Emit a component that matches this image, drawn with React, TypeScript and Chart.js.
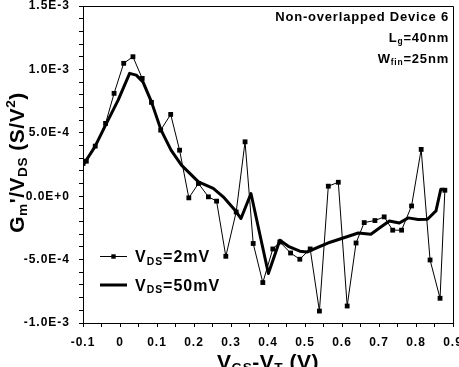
import React, { useEffect, useRef } from 'react';
import { Chart, registerables } from 'chart.js';

Chart.register(...registerables);

// Gate voltage overdrive (V) and normalised transconductance derivative (S/V^2)
const vds2X = [
  -0.1, -0.091, -0.067, -0.039, -0.016, 0.01, 0.035, 0.06, 0.085, 0.11, 0.137, 0.161,
  0.186, 0.212, 0.239, 0.261, 0.286, 0.314, 0.338, 0.36, 0.386, 0.413, 0.432, 0.461,
  0.486, 0.514, 0.539, 0.563, 0.59, 0.614, 0.638, 0.66, 0.689, 0.714, 0.737, 0.761,
  0.788, 0.814, 0.838, 0.865, 0.878,
];
const vds2Y = [
  2.58e-4, 2.76e-4, 3.95e-4, 5.74e-4, 8.11e-4, 1.048e-3, 1.1e-3, 9.29e-4, 7.4e-4, 5.21e-4,
  6.45e-4, 3.63e-4, -1.3e-5, 1.0e-4, -5e-6, -3.9e-5, -4.74e-4, -1.24e-4, 4.29e-4, -3.73e-4,
  -6.81e-4, -4.16e-4, -3.61e-4, -4.48e-4, -4.97e-4, -4.16e-4, -9.06e-4, 7.9e-5, 1.1e-4,
  -8.66e-4, -3.69e-4, -2.08e-4, -1.92e-4, -1.63e-4, -2.68e-4, -2.68e-4, -7.7e-5, 3.69e-4,
  -5.03e-4, -8.05e-4, 4.7e-5,
];

const vds50X = [
  -0.1, -0.068, -0.039, -0.005, 0.026, 0.044, 0.062, 0.085, 0.111, 0.138, 0.166, 0.212,
  0.252, 0.279, 0.311, 0.327, 0.354, 0.401, 0.432, 0.455, 0.486, 0.505, 0.568, 0.644,
  0.678, 0.703, 0.728, 0.755, 0.779, 0.806, 0.831, 0.854, 0.867, 0.877,
];
const vds50Y = [
  2.45e-4, 3.89e-4, 5.61e-4, 7.58e-4, 9.69e-4, 9.55e-4, 9.02e-4, 7.44e-4, 5.21e-4, 3.63e-4,
  2.45e-4, 1.13e-4, 6.1e-5, -5e-6, -1.1e-4, -1.76e-4, 2.1e-5, -6.1e-4, -3.47e-4, -3.95e-4,
  -4.34e-4, -4.4e-4, -3.63e-4, -2.9e-4, -3.0e-4, -2.47e-4, -1.95e-4, -2.11e-4, -1.71e-4,
  -1.84e-4, -1.82e-4, -1.16e-4, 5.5e-5, 5.5e-5,
];

const xMin = -0.1;
const xMax = 0.9;
const xMinorStep = 0.05;
const xLabelStep = 0.1;
const yMin = -1e-3;
const yMax = 1.5e-3;
const yMinorStep = 1e-4;
const yLabelStep = 5e-4;

const FONT = "'Liberation Sans', Arial, Helvetica, sans-serif";

type Seg = { t: string; s?: 'sub' | 'sup' };

function drawRich(
  ctx: CanvasRenderingContext2D,
  segs: Seg[],
  x: number,
  y: number,
  size: number,
  align: 'left' | 'right' | 'center',
  spacing: number,
) {
  const small = size * 0.65;
  (ctx as any).letterSpacing = `${spacing}px`;
  ctx.textAlign = 'left';
  ctx.textBaseline = 'alphabetic';
  ctx.fillStyle = '#000';
  const widths = segs.map((sg) => {
    ctx.font = `bold ${sg.s ? small : size}px ${FONT}`;
    return ctx.measureText(sg.t).width;
  });
  const total = widths.reduce((a, b) => a + b, 0);
  let cx = align === 'left' ? x : align === 'right' ? x - total : x - total / 2;
  segs.forEach((sg, i) => {
    ctx.font = `bold ${sg.s ? small : size}px ${FONT}`;
    const dy = sg.s === 'sub' ? size * 0.18 : sg.s === 'sup' ? -size * 0.42 : 0;
    ctx.fillText(sg.t, cx, y + dy);
    cx += widths[i];
  });
}

const decorations = {
  id: 'decorations',
  beforeDraw(chart: Chart) {
    (chart.ctx as any).letterSpacing = '1px';
  },
  afterDraw(chart: Chart) {
    const ctx = chart.ctx;
    const a = chart.chartArea;
    ctx.save();

    // frame on the top and right sides
    ctx.strokeStyle = '#000';
    ctx.lineWidth = 1;
    ctx.beginPath();
    ctx.moveTo(a.left, a.top + 0.5);
    ctx.lineTo(a.right + 0.5, a.top + 0.5);
    ctx.lineTo(a.right + 0.5, a.bottom);
    ctx.stroke();

    // device annotation
    const rx = a.right - 4;
    drawRich(ctx, [{ t: 'Non-overlapped Device 6' }], rx, a.top + 14.5, 13, 'right', 0.8);
    drawRich(ctx, [{ t: 'L' }, { t: 'g', s: 'sub' }, { t: '=40nm' }], rx, a.top + 35.5, 13, 'right', 0.8);
    drawRich(ctx, [{ t: 'W' }, { t: 'fin', s: 'sub' }, { t: '=25nm' }], rx, a.top + 57, 13, 'right', 0.8);

    // legend
    const lx0 = a.left + 17;
    const lx1 = a.left + 44;
    const ly1 = 256.5;
    const ly2 = 285;
    ctx.strokeStyle = '#000';
    ctx.lineWidth = 1;
    ctx.beginPath();
    ctx.moveTo(lx0, ly1);
    ctx.lineTo(lx1, ly1);
    ctx.stroke();
    ctx.fillStyle = '#000';
    ctx.fillRect((lx0 + lx1) / 2 - 2.2, ly1 - 2.2, 4.4, 4.4);
    ctx.lineWidth = 3;
    ctx.beginPath();
    ctx.moveTo(lx0, ly2);
    ctx.lineTo(lx1, ly2);
    ctx.stroke();
    drawRich(ctx, [{ t: 'V' }, { t: 'DS', s: 'sub' }, { t: '=2mV' }], a.left + 52, ly1 + 5.5, 16, 'left', 1);
    drawRich(ctx, [{ t: 'V' }, { t: 'DS', s: 'sub' }, { t: '=50mV' }], a.left + 52, ly2 + 5.5, 16, 'left', 1);

    // x axis title
    drawRich(
      ctx,
      [{ t: 'V' }, { t: 'GS', s: 'sub' }, { t: '-V' }, { t: 'T', s: 'sub' }, { t: ' (V)' }],
      (a.left + a.right) / 2,
      a.bottom + 45.5,
      21,
      'center',
      0.5,
    );

    // y axis title
    ctx.save();
    ctx.translate(23.5, (a.top + a.bottom) / 2 - 2);
    ctx.rotate(-Math.PI / 2);
    drawRich(
      ctx,
      [
        { t: 'G' },
        { t: 'm', s: 'sub' },
        { t: "'/V" },
        { t: 'DS', s: 'sub' },
        { t: ' (S/V' },
        { t: '2', s: 'sup' },
        { t: ')' },
      ],
      0,
      0,
      21,
      'center',
      0.5,
    );
    ctx.restore();

    ctx.restore();
  },
};

export default function App() {
  const canvasRef = useRef<HTMLCanvasElement | null>(null);

  useEffect(() => {
    const canvas = canvasRef.current;
    if (!canvas) return;
    const tickFont = { family: FONT, size: 12, weight: 'bold' as const };

    const chart = new Chart(canvas, {
      type: 'line',
      data: {
        datasets: [
          {
            label: 'VDS=2mV',
            data: vds2X.map((x, i) => ({ x, y: vds2Y[i] })),
            borderColor: '#000',
            backgroundColor: '#000',
            borderWidth: 1,
            pointStyle: 'rect',
            pointRadius: 3.4,
            pointBorderWidth: 0,
            tension: 0,
          },
          {
            label: 'VDS=50mV',
            data: vds50X.map((x, i) => ({ x, y: vds50Y[i] })),
            borderColor: '#000',
            backgroundColor: '#000',
            borderWidth: 3,
            pointRadius: 0,
            tension: 0,
            borderJoinStyle: 'round',
          },
        ],
      },
      options: {
        responsive: false,
        animation: false,
        devicePixelRatio: 1,
        layout: { padding: { top: 6, right: 6, left: 0, bottom: 0 } },
        plugins: {
          legend: { display: false },
          tooltip: { enabled: false },
        },
        scales: {
          x: {
            type: 'linear',
            min: xMin,
            max: xMax,
            border: { display: true, color: '#000', width: 1 },
            grid: { drawOnChartArea: false, tickLength: 4, color: '#000' },
            ticks: {
              stepSize: xMinorStep,
              autoSkip: false,
              maxRotation: 0,
              padding: 8,
              color: '#000',
              font: tickFont,
              callback: (v: any) => {
                const n = Number(v) / xLabelStep;
                const k = Math.round(n);
                if (Math.abs(n - k) > 1e-6) return '';
                return k === 0 ? '0' : (k * xLabelStep).toFixed(1);
              },
            },
            afterFit: (s: any) => {
              s.height = 44;
              s.paddingLeft = 0;
              s.paddingRight = 0;
            },
          },
          y: {
            type: 'linear',
            min: yMin,
            max: yMax,
            border: { display: true, color: '#000', width: 1 },
            grid: { drawOnChartArea: false, tickLength: 4, color: '#000' },
            ticks: {
              stepSize: yMinorStep,
              autoSkip: false,
              padding: 9,
              color: '#000',
              font: tickFont,
              callback: (v: any) => {
                const n = Number(v) / yLabelStep;
                const k = Math.round(n);
                if (Math.abs(n - k) > 1e-6) return '';
                return (k * yLabelStep).toExponential(1).toUpperCase();
              },
            },
            afterFit: (s: any) => {
              s.width = 83;
              s.paddingTop = 0;
              s.paddingBottom = 0;
            },
          },
        },
      },
      plugins: [decorations],
    });

    return () => chart.destroy();
  }, []);

  return (
    <div style={{ position: 'fixed', left: 0, top: 0, width: 459, height: 367, background: '#fff' }}>
      <canvas ref={canvasRef} width={459} height={367} style={{ display: 'block' }} />
    </div>
  );
}
